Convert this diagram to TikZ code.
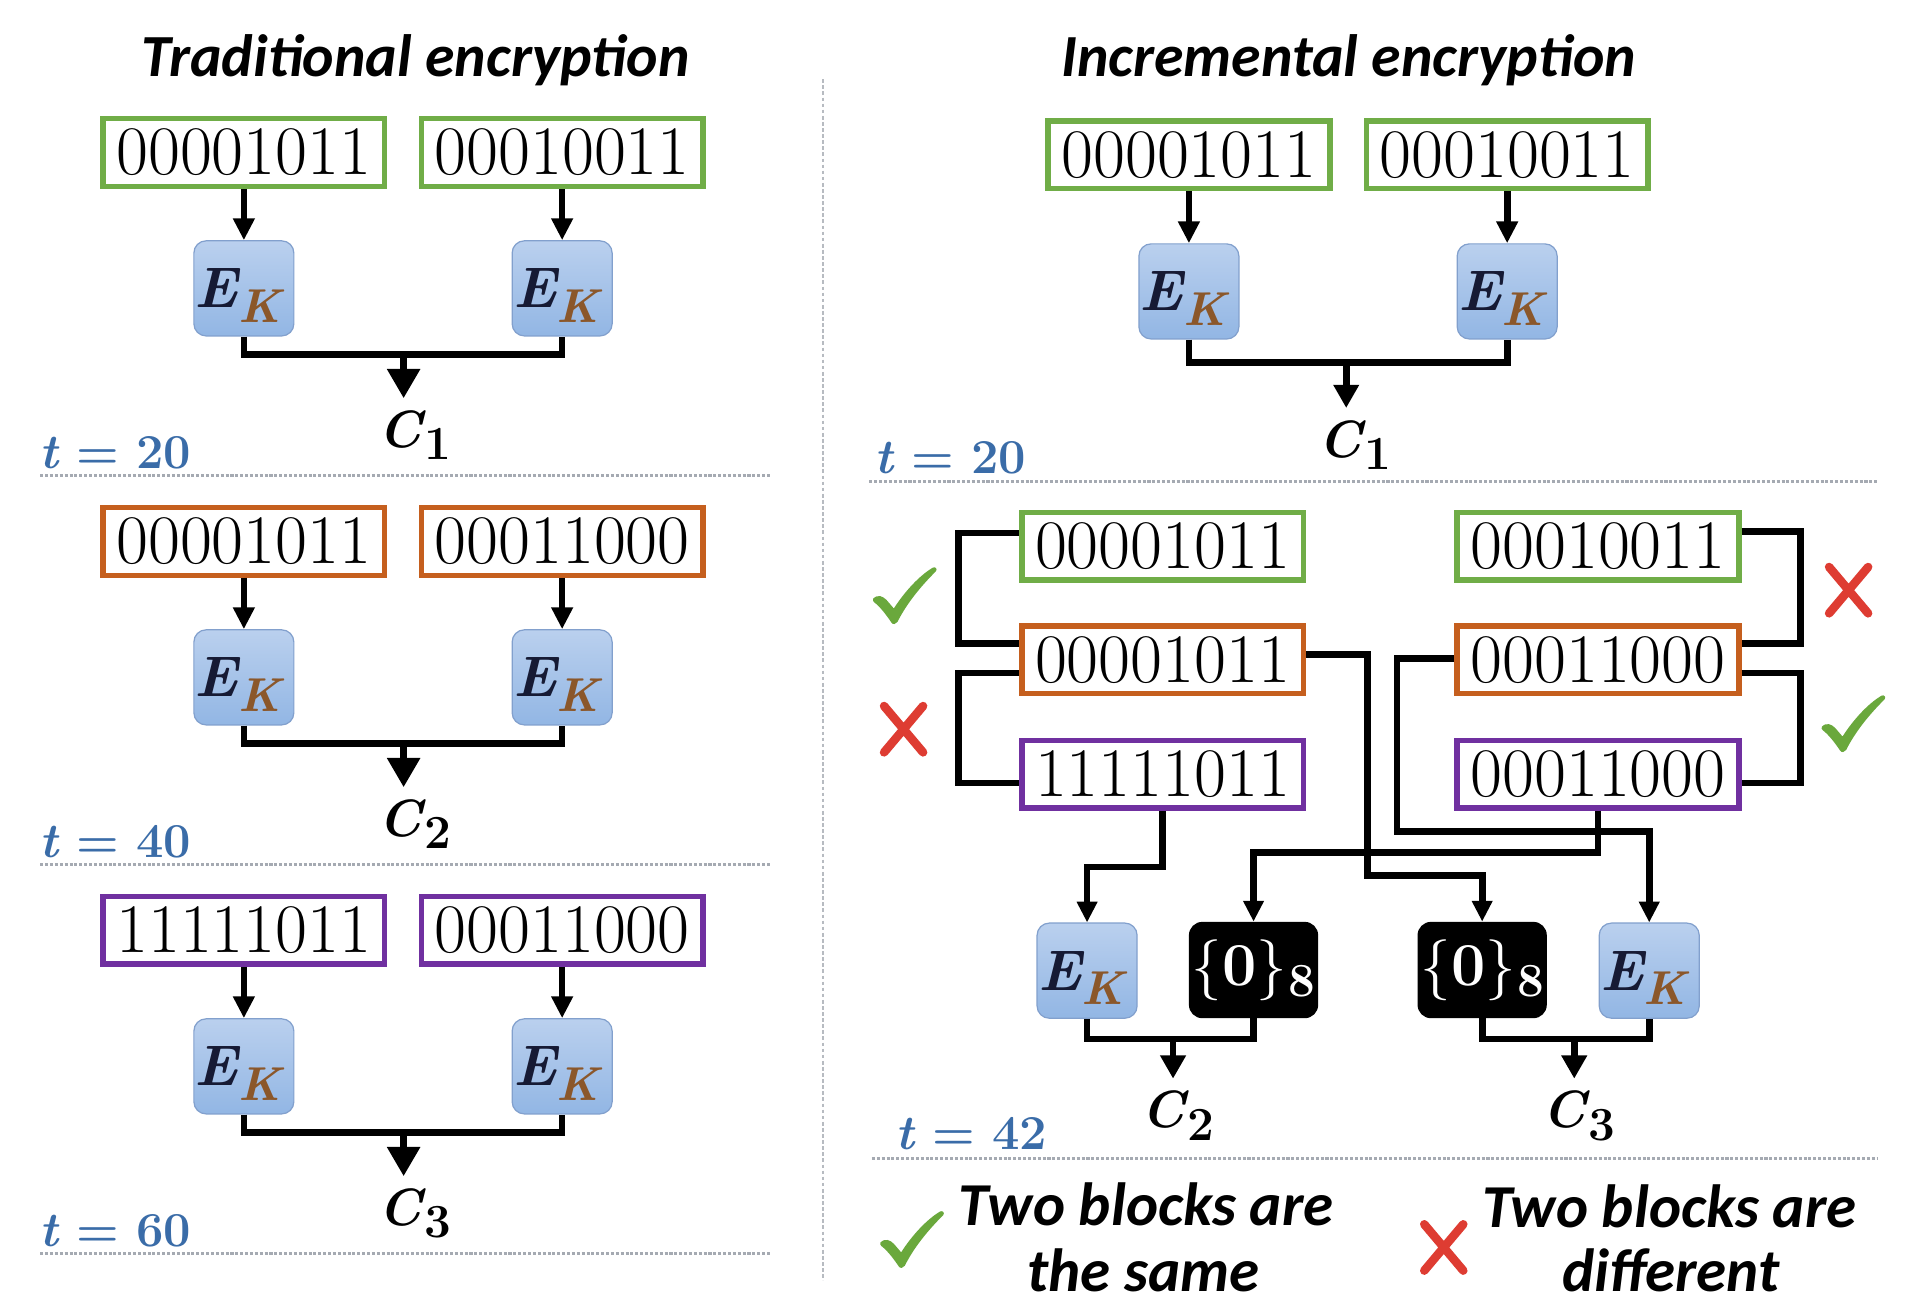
\documentclass[tikz,border=0pt]{standalone}
\usepackage{fontspec}
\newfontfamily\carlito{Carlito}
\usetikzlibrary{arrows.meta}

\definecolor{boxgreen}{RGB}{112,173,71}
\definecolor{boxorange}{RGB}{197,95,30}
\definecolor{boxpurple}{RGB}{112,48,160}
\definecolor{ektop}{RGB}{186,208,238}
\definecolor{ekbot}{RGB}{146,182,228}
\definecolor{ekline}{RGB}{130,160,205}
\definecolor{eknavy}{RGB}{22,26,52}
\definecolor{kbrown}{RGB}{139,87,42}
\definecolor{tblue}{RGB}{58,108,168}
\definecolor{okgreen}{RGB}{106,168,60}
\definecolor{badred}{RGB}{222,60,50}
\definecolor{rulegray}{RGB}{165,170,178}

% cipher label E_K
\newcommand\EK{{\color{eknavy}\fontsize{47}{47}\selectfont\bfseries\itshape E}\kern0pt\raisebox{-12pt}{\color{kbrown}\fontsize{39}{39}\selectfont\bfseries\itshape K}\kern10pt}
% ciphertext label C_n
\newcommand\Cn[1]{{\fontsize{43}{43}\selectfont\bfseries\itshape C}\kern2pt\raisebox{-10pt}{\fontsize{39}{39}\selectfont\bfseries #1}}
% time stamp
\newcommand\tstamp[1]{{\color{tblue}\fontsize{40}{40}\selectfont\bfseries\itshape t\upshape\hspace{15pt}=\hspace{14pt}#1}}
% all-zero block
\newcommand\zeros{{\color{white}\fontsize{50}{50}\selectfont\{\textbf{0}\}\kern1pt\raisebox{-9pt}{\fontsize{39}{39}\selectfont\bfseries 8}}}

\tikzset{
  bits/.style={draw=#1, line width=4.5pt, fill=white, minimum width=231pt, minimum height=55.5pt, inner sep=0pt, font=\fontsize{57}{57}\selectfont\addfontfeatures{FakeBold=0.4}},
  ekbox/.style={draw=ekline, line width=1pt, rounded corners=10pt, top color=ektop, bottom color=ekbot, minimum width=82pt, minimum height=78pt, inner sep=0pt, text height=41pt, text depth=9pt},
  zbox/.style={fill=black, rounded corners=11pt, minimum width=106pt, minimum height=79pt, inner sep=0pt},
  cnode/.style={inner sep=10pt, anchor=base},
  tnode/.style={inner sep=0pt, anchor=base west},
  headline/.style={font=\carlito\bfseries\itshape\fontsize{49}{49}\selectfont, anchor=base, inner sep=0pt},
  legtext/.style={font=\carlito\bfseries\itshape\fontsize{50}{50}\selectfont, anchor=base, inner sep=0pt},
  wire/.style={line width=5.5pt, line join=miter, line cap=butt},
  feed/.style={wire, -{Triangle[width=17pt,length=18pt]}},
  bigfeed/.style={wire, -{Triangle[width=26pt,length=24pt]}},
  midfeed/.style={wire, -{Triangle[width=20pt,length=19pt]}},
  lowfeed/.style={wire, -{Triangle[width=16pt,length=17pt]}},
  sepline/.style={rulegray, line width=2pt, dash pattern=on 2.5pt off 1.5pt},
  divider/.style={rulegray!80, line width=1.5pt, dash pattern=on 3pt off 2pt},
  okmark/.pic={
    \fill[okgreen] (0,26) .. controls (4,22) and (8,24) .. (11,27) -- (17,34)
      .. controls (26,20) and (38,7) .. (49,0.5) .. controls (51,-0.5) and (53,1.5) .. (51.5,3.5)
      .. controls (40,15) and (28,29) .. (20,45) .. controls (19,47) and (16,47.5) .. (15,45.5)
      .. controls (10,38) and (5,32) .. (1,29) .. controls (0,28.5) and (-0.5,27) .. (0,26) -- cycle;
  },
  badmark/.pic={
    \draw[badred, line width=7pt, line cap=round] (5,4) -- (37,42) (37,4) -- (5,42);
  },
}

\begin{document}
\begin{tikzpicture}[x=1pt,y=-1pt]
\useasboundingbox (0,0) rectangle (1568,1073);
\fill[white] (0,0) rectangle (1568,1073);

% headings and the divider between the two schemes
\node[headline] (headL) at (341,63) {Traditional encryption};
\node[headline] (headR) at (1106,63) {Incremental encryption};
\draw[divider] (675,65) -- (675,1050);

% traditional scheme: every round re-encrypts both blocks
\foreach \r/\dy/\col/\ba/\bb/\tv in {1/0/boxgreen/00001011/00010011/20,
                                    2/319/boxorange/00001011/00011000/40,
                                    3/638/boxpurple/11111011/00011000/60} {
  \node[bits=\col] (pa\r) at (200,125+\dy) {\ba};
  \node[bits=\col] (pb\r) at (461,125+\dy) {\bb};
  \node[ekbox] (ea\r) at (200,236.5+\dy) {\EK};
  \node[ekbox] (eb\r) at (461,236.5+\dy) {\EK};
  \coordinate (ja\r) at (331,291+\dy);
  \node[cnode] (ca\r) at (340,367+\dy) {\Cn{\r}};
  \node[tnode] (ta\r) at (32,384+\dy) {\tstamp{\tv}};
  \draw[feed] (pa\r.south) -- (ea\r.north);
  \draw[feed] (pb\r.south) -- (eb\r.north);
  \draw[wire] (ea\r.south) |- (ja\r) -| (eb\r.south);
  \draw[bigfeed] (ja\r) -- (ja\r |- ca\r.north);
  \draw[sepline] (33,390+\dy) -- (632,390+\dy);
}

% incremental scheme: first round
\node[bits=boxgreen] (ia) at (975,127) {00001011};
\node[bits=boxgreen] (ib) at (1236,127) {00010011};
\node[ekbox] (iea) at (975,239) {\EK};
\node[ekbox] (ieb) at (1236,239) {\EK};
\coordinate (ij1) at (1104,297);
\node[cnode] (ic1) at (1111,375) {\Cn{1}};
\node[tnode] (it1) at (717,388) {\tstamp{20}};
\draw[feed] (ia.south) -- (iea.north);
\draw[feed] (ib.south) -- (ieb.north);
\draw[wire] (iea.south) |- (ij1) -| (ieb.south);
\draw[midfeed] (ij1) -- (ij1 |- ic1.north);
\draw[sepline] (713,395) -- (1540,395);

% block history of the two positions
\node[bits=boxgreen] (mgL) at (953.5,448) {00001011};
\node[bits=boxorange] (moL) at (953.5,541) {00001011};
\node[bits=boxpurple] (mpL) at (953.5,635) {11111011};
\node[bits=boxgreen] (mgR) at (1310.5,448) {00010011};
\node[bits=boxorange] (moR) at (1310.5,541) {00011000};
\node[bits=boxpurple] (mpR) at (1310.5,635) {00011000};

% comparisons between consecutive versions
\draw[wire] ([yshift=11pt]mgL.west) -- ++(-50,0) |- ([yshift=13pt]moL.west);
\draw[wire] ([yshift=-11pt]moL.west) -- ++(-50,0) |- ([yshift=-7pt]mpL.west);
\draw[wire] ([yshift=12pt]mgR.east) -- ++(48,0) |- ([yshift=13pt]moR.east);
\draw[wire] ([yshift=-11pt]moR.east) -- ++(48,0) |- ([yshift=-7pt]mpR.east);
\pic at (716,465) {okmark};
\pic at (720,575) {badmark};
\pic at (1495,461) {badmark};
\pic at (1494,570) {okmark};

% second round: changed blocks are encrypted, unchanged ones become zero blocks
\node[ekbox] (beL) at (891.5,796) {\EK};
\node[zbox] (bzL) at (1028,795.5) {\zeros};
\node[zbox] (bzR) at (1215.5,795.5) {\zeros};
\node[ekbox] (beR) at (1352.5,796) {\EK};

\draw[lowfeed] (mpL.south) -- ++(0,46) -| (beL.north);
\draw[lowfeed] ([yshift=4pt]moL.east) -- ++(50,0) -- ++(0,181) -| (bzR.north);
\draw[lowfeed] ([yshift=1pt]moR.west) -- ++(-47,0) -- ++(0,142) -| (beR.north);
\draw[lowfeed] (mpR.south) -- ++(0,34) -| (bzL.north);

\coordinate (bj2) at (962,852);
\coordinate (bj3) at (1291,852);
\node[cnode] (bc2) at (966,925) {\Cn{2}};
\node[cnode] (bc3) at (1295,925) {\Cn{3}};
\draw[wire] (beL.south) |- (bj2) -| (bzL.south);
\draw[wire] (bzR.south) |- (bj3) -| (beR.south);
\draw[midfeed] (bj2) -- (bj2 |- bc2.north);
\draw[midfeed] (bj3) -- (bj3 |- bc3.north);
\node[tnode] (bt42) at (734,943) {\tstamp{42}};
\draw[sepline] (715,950) -- (1540,950);

% legend
\pic at (722,993) {okmark};
\node[legtext] (lg1a) at (940,1005) {Two blocks are};
\node[legtext] (lg1b) at (938,1059) {the same};
\pic at (1163,1000) {badmark};
\node[legtext] (lg2a) at (1369,1007) {Two blocks are};
\node[legtext] (lg2b) at (1370,1059) {different};
\end{tikzpicture}
\end{document}
